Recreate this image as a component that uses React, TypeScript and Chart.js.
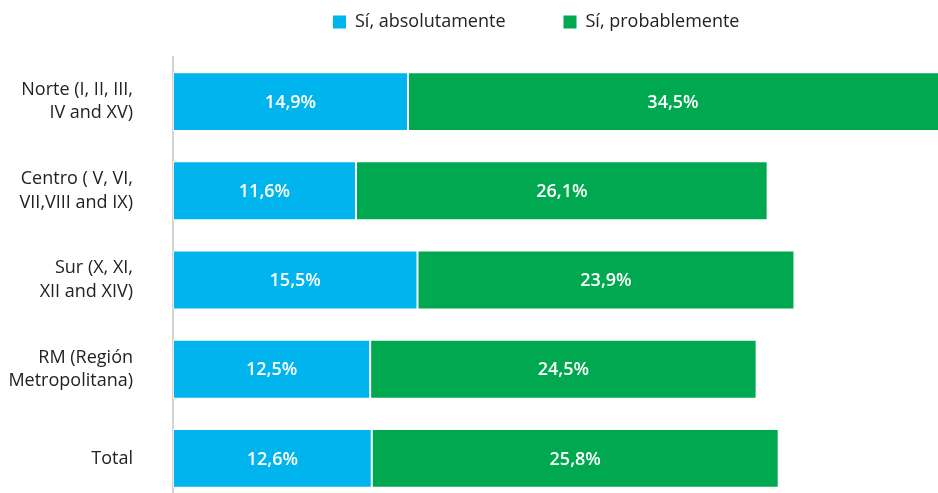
import React, { useEffect, useRef } from "react";
import { Chart, registerables } from "chart.js";

Chart.register(...registerables);

const categories: (string | string[])[] = [
  ["Norte (I, II, III,", "IV and XV)"],
  ["Centro ( V, VI,", "VII,VIII and IX)"],
  ["Sur (X, XI,", "XII and XIV)"],
  ["RM (Región", "Metropolitana)"],
  "Total",
];
const absolutamente = [14.9, 11.6, 15.5, 12.5, 12.6];
const probablemente = [34.5, 26.1, 23.9, 24.5, 25.8];
const seriesNames = ["Sí, absolutamente", "Sí, probablemente"];
const seriesColors = ["#00B4EE", "#00A94F"];

const FONT = "'Open Sans', Lato, sans-serif";
const W = 938;
const H = 505;

const barLabels = {
  id: "barLabels",
  afterDatasetsDraw(chart: any) {
    const ctx = chart.ctx;
    ctx.save();
    ctx.fillStyle = "#ffffff";
    ctx.font = `600 18px ${FONT}`;
    ctx.textAlign = "center";
    ctx.textBaseline = "middle";
    const area = chart.chartArea;
    chart.data.datasets.forEach((ds: any, di: number) => {
      const meta = chart.getDatasetMeta(di);
      meta.data.forEach((el: any, i: number) => {
        const v = ds.data[i] as number;
        const left = Math.min(el.base, el.x);
        const right = Math.min(Math.max(el.base, el.x), area.right);
        const cx = (left + right) / 2;
        ctx.fillText(v.toFixed(1).replace(".", ",") + "%", cx, el.y + 1);
      });
    });
    ctx.restore();
  },
};

const customLegend = {
  id: "customLegend",
  afterDraw(chart: any) {
    const ctx = chart.ctx;
    ctx.save();
    ctx.font = `18px ${FONT}`;
    ctx.textBaseline = "middle";
    ctx.textAlign = "left";
    const box = 13;
    const gapText = 9;
    const gapItems = 58;
    const y = 22;
    let x = 333;
    chart.data.datasets.forEach((ds: any) => {
      ctx.fillStyle = ds.backgroundColor;
      ctx.fillRect(x, y - box / 2, box, box);
      ctx.fillStyle = "#222222";
      ctx.fillText(ds.label, x + box + gapText, y);
      x += box + gapText + ctx.measureText(ds.label).width + gapItems;
    });
    ctx.restore();
  },
};

export default function App() {
  const ref = useRef<HTMLCanvasElement>(null);
  useEffect(() => {
    if (!ref.current) return;
    const chart = new Chart(ref.current, {
      type: "bar",
      data: {
        labels: categories as any,
        datasets: [
          {
            label: seriesNames[0],
            data: absolutamente,
            backgroundColor: seriesColors[0],
            borderColor: "rgba(255,255,255,0.6)",
            borderWidth: 1,
            borderSkipped: false,
          },
          {
            label: seriesNames[1],
            data: probablemente,
            backgroundColor: seriesColors[1],
            borderColor: "rgba(255,255,255,0.6)",
            borderWidth: 1,
            borderSkipped: false,
          },
        ],
      },
      plugins: [barLabels, customLegend],
      options: {
        indexAxis: "y",
        animation: false,
        responsive: false,
        layout: { padding: { top: 57, bottom: 2, right: 0, left: 0 } },
        datasets: {
          bar: { categoryPercentage: 1, barPercentage: 0.66 },
        },
        scales: {
          x: {
            stacked: true,
            min: 0,
            max: 48.5,
            display: false,
          },
          y: {
            stacked: true,
            afterFit: (s: any) => {
              s.width = 173;
              s.paddingTop = 0;
              s.paddingBottom = 0;
            },
            grid: { display: false, drawTicks: false },
            border: { display: true, color: "#d4d4d4", width: 2 },
            ticks: {
              color: "#222222",
              padding: 40,
              font: { family: FONT, size: 18, lineHeight: 1.3 },
            },
          },
        },
        plugins: {
          tooltip: { enabled: false },
          legend: { display: false },
        },
      },
    });
    return () => chart.destroy();
  }, []);
  return (
    <div style={{ position: "fixed", left: 0, top: 0, width: W, height: 493, overflow: "hidden", background: "#fff" }}>
      <canvas ref={ref} width={W} height={H} style={{ display: "block", width: W, height: H }} />
    </div>
  );
}
